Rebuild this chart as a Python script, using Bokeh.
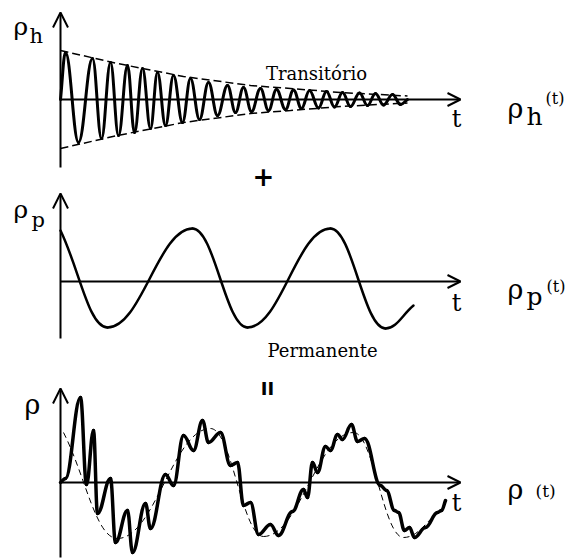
from bokeh.plotting import figure
from bokeh.layouts import column
from bokeh.models import Range1d, Arrow, OpenHead
from bokeh.core.properties import value
from bokeh.embed import file_html
from bokeh.resources import INLINE

# ---- transient (homogeneous) response: turning points of the damped oscillation
trans_t = [0.00, 0.05, 0.18, 0.32, 0.41, 0.50, 0.58, 0.67, 0.74, 0.82, 0.90,
           0.97, 1.05, 1.13, 1.22, 1.30, 1.39, 1.48, 1.57, 1.67, 1.75, 1.83,
           1.91, 2.00, 2.08, 2.16, 2.25, 2.33, 2.41, 2.49, 2.58, 2.66, 2.74,
           2.82, 2.90, 2.99, 3.07, 3.15, 3.23, 3.32, 3.40, 3.47]
trans_rho = [0.00, 0.94, -0.86, 0.82, -0.78, 0.74, -0.72, 0.68, -0.66, 0.62,
             -0.58, 0.54, -0.52, 0.48, -0.46, 0.42, -0.40, 0.34, -0.32, 0.28,
             -0.26, 0.24, -0.24, 0.22, -0.22, 0.20, -0.20, 0.19, -0.18, 0.18,
             -0.17, 0.16, -0.15, 0.14, -0.14, 0.13, -0.12, 0.12, -0.11, 0.10,
             -0.10, 0.00]
# decay envelope
env_t = [0.00, 0.57, 1.23, 1.90, 2.30, 2.80, 3.47]
env_amp = [0.98, 0.72, 0.46, 0.28, 0.22, 0.14, 0.07]

# ---- permanent (particular) response
perm_t = [0.00, 0.47, 1.32, 1.87, 2.70, 3.25, 3.53]
perm_rho = [1.02, -0.92, 1.06, -0.92, 1.06, -0.94, -0.48]

# ---- total response and its permanent part drawn dashed underneath
total_t = [0.00, 0.05, 0.20, 0.26, 0.33, 0.37, 0.50, 0.55, 0.67, 0.72, 0.85,
           0.90, 1.05, 1.13, 1.23, 1.33, 1.42, 1.48, 1.60, 1.70, 1.77, 1.83,
           1.90, 1.98, 2.10, 2.18, 2.32, 2.43, 2.47, 2.52, 2.57, 2.65, 2.70,
           2.77, 2.82, 2.91, 2.97, 3.04, 3.20, 3.26, 3.34, 3.38, 3.44, 3.49,
           3.54, 3.65, 3.77, 3.81, 3.85]
total_rho = [0.00, 0.08, 1.70, -0.04, 1.04, -0.62, 0.08, -1.20, -0.56, -1.40,
             -0.42, -0.92, 0.16, -0.06, 0.94, 0.64, 1.24, 0.80, 1.00, 0.34,
             0.40, -0.46, -0.40, -1.04, -0.84, -1.06, -0.58, -0.14, -0.30,
             0.40, 0.20, 0.72, 0.64, 0.96, 0.86, 1.16, 0.82, 0.88, -0.06,
             -0.16, -0.56, -0.60, -0.96, -0.90, -1.10, -0.90, -0.60, -0.56,
             -0.36]
guide_t = [0.03, 0.57, 1.50, 2.03, 2.93, 3.43, 3.80]
guide_rho = [1.00, -1.12, 1.08, -1.08, 1.00, -1.10, -0.56]

SERIF = value("DejaVu Serif")
SANS = value("DejaVu Sans")
X_RANGE = (-0.6, 5.11)
T_END = 4.0


def segments(ts, rs, k=0.4, free_start=False, free_end=False):
    """Cubic pieces between turning points, flat tangent at each turning point."""
    n = len(ts) - 1
    d = dict(x0=ts[:-1], y0=rs[:-1], x1=ts[1:], y1=rs[1:],
             cx0=[], cy0=[], cx1=[], cy1=[])
    for i in range(n):
        dx = ts[i + 1] - ts[i]
        d["cx0"].append(ts[i] + k * dx)
        d["cy0"].append(rs[i])
        d["cx1"].append(ts[i + 1] - k * dx)
        d["cy1"].append(rs[i + 1])
    if free_start:
        d["cy0"][0] = rs[0] + k * (rs[1] - rs[0])
    if free_end:
        d["cy1"][-1] = rs[-1] - k * (rs[-1] - rs[-2])
    return d


def panel(height, ybot, ytop):
    p = figure(width=571, height=height, x_range=Range1d(*X_RANGE),
               y_range=Range1d(ybot, ytop), output_backend="svg",
               toolbar_location=None, min_border=0,
               x_axis_type=None, y_axis_type=None)
    p.outline_line_color = None
    p.xgrid.visible = False
    p.ygrid.visible = False
    return p


def axes(p, ybot, ytop):
    p.add_layout(Arrow(end=OpenHead(size=15, line_width=2), x_start=0, y_start=ybot,
                       x_end=0, y_end=ytop, line_width=2))
    p.add_layout(Arrow(end=OpenHead(size=13, line_width=2), x_start=0, y_start=0,
                       x_end=T_END, y_end=0, line_width=2))


def label(p, x, y, s, size, font=SERIF, align="left", baseline="alphabetic", style="normal"):
    p.text(x=[x], y=[y], text=[s], text_font=font, text_font_size=size,
           text_align=align, text_baseline=baseline, text_font_style=style,
           text_color="black")


# ---------- transient panel (also holds the "+" between the first two rows)
p1 = panel(190, -1.82, 1.98)
axes(p1, -1.36, 1.74)
p1.line(env_t, env_amp, line_dash="8 4", line_width=1.5, line_color="black")
p1.line(env_t, [-a for a in env_amp], line_dash="8 4", line_width=1.5, line_color="black")
p1.bezier(line_width=3, line_color="black", line_cap="round",
          **segments(trans_t, trans_rho, free_start=True, free_end=True))
label(p1, -0.47, 1.46, "ρ", "25px")
label(p1, -0.31, 1.28, "h", "21px")
label(p1, 2.56, 0.52, "Transitório", "18px", align="center")
label(p1, 3.96, -0.38, "t", "24px", align="center")
label(p1, 4.47, -0.18, "ρ", "27px")
label(p1, 4.66, -0.34, "h", "25px")
label(p1, 4.85, 0.02, "(t)", "16px")
label(p1, 2.03, -1.52, "+", "26px", font=SANS, align="center", baseline="middle", style="bold")

# ---------- permanent panel
p2 = panel(175, -1.68, 1.82)
axes(p2, -1.14, 1.76)
p2.bezier(line_width=2.5, line_color="black", line_cap="round",
          **segments(perm_t, perm_rho, free_start=True, free_end=True))
label(p2, -0.47, 1.44, "ρ", "25px")
label(p2, -0.29, 1.24, "p", "21px")
label(p2, 2.62, -1.38, "Permanente", "18px", align="center")
label(p2, 3.96, -0.42, "t", "24px", align="center")
label(p2, 4.47, -0.16, "ρ", "27px")
label(p2, 4.66, -0.30, "p", "25px")
label(p2, 4.86, -0.10, "(t)", "16px")

# ---------- total response panel
p3 = panel(193, -1.52, 2.34)
axes(p3, -1.50, 1.88)
p3.bezier(line_width=1, line_color="black", line_dash="6 4",
          **segments(guide_t, guide_rho, free_start=True, free_end=True))
p3.bezier(line_width=3.5, line_color="black", line_cap="round",
          **segments(total_t, total_rho, free_start=True, free_end=True))
label(p3, 2.07, 1.88, "II", "18px", font=SANS, align="center", baseline="middle", style="bold")
label(p3, -0.36, 1.56, "ρ", "27px")
label(p3, 3.96, -0.40, "t", "24px", align="center")
label(p3, 4.47, -0.14, "ρ", "27px")
label(p3, 4.75, -0.16, "(t)", "17px")

layout = column(p1, p2, p3, spacing=0)
open("out.html", "w").write(file_html(layout, INLINE))
